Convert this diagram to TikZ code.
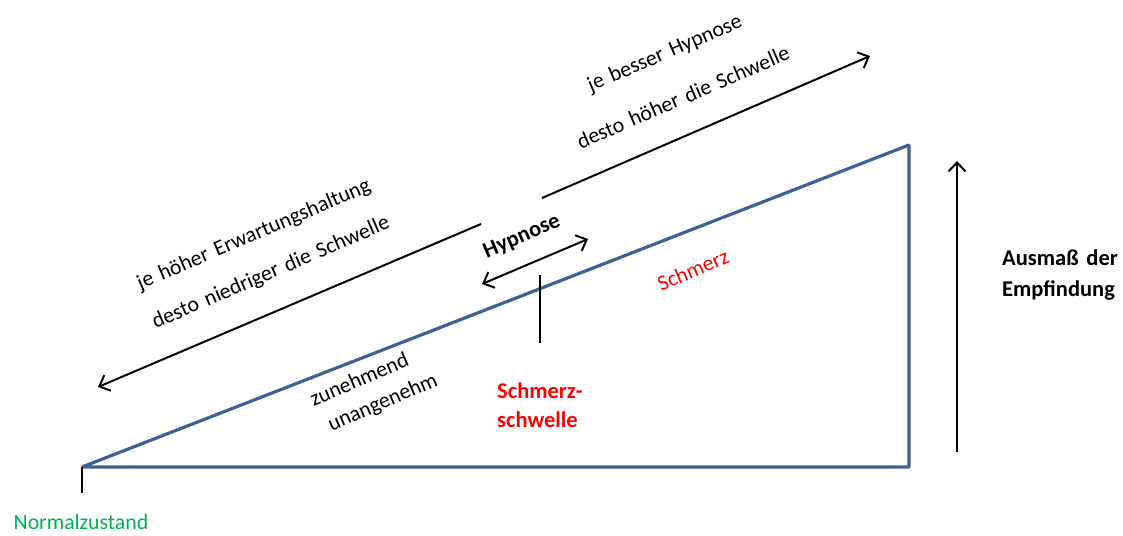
\documentclass[tikz,border=0pt]{standalone}
\usepackage{fontspec}
\setmainfont{Carlito}[WordSpace=1.5]
\usetikzlibrary{arrows.meta}
\definecolor{triblue}{RGB}{62,98,148}
\definecolor{greentxt}{RGB}{0,176,80}
\definecolor{redtxt}{RGB}{255,0,0}
\tikzset{
  tri/.style={draw=triblue,line width=3.2pt,line join=bevel},
  blk/.style={draw=black,line width=2pt},
  arr/.style={blk,-{Straight Barb[length=9pt,width=17pt,line width=2pt]}},
  darr/.style={blk,{Straight Barb[length=9pt,width=17pt,line width=2pt]}-{Straight Barb[length=9pt,width=17pt,line width=2pt]}},
  txt/.style={font=\fontsize{21.8}{26}\selectfont,inner sep=0pt},
  btxt/.style={font=\fontsize{22.5}{26}\selectfont\bfseries,inner sep=0pt},
  rot/.style={rotate=23.3}
}
\begin{document}
\begin{tikzpicture}[x=1pt,y=-1pt]
\useasboundingbox (0,0) rectangle (1123,535);
% triangle
\coordinate (A) at (82,467);
\coordinate (B) at (909,467);
\coordinate (C) at (909,145);
\draw[tri] (A) -- (B) -- (C) -- cycle;
% tick at normal state
\coordinate (T) at (82,493);
\draw[blk] (A) -- (T);
% upper arrow
\coordinate (U1) at (542,198);
\coordinate (U2) at (870,56);
\draw[arr] (U1) -- (U2);
% lower-left arrow
\coordinate (L1) at (481,224);
\coordinate (L2) at (98,387);
\draw[arr] (L1) -- (L2);
% hypnose double arrow
\coordinate (H1) at (482,284);
\coordinate (H2) at (588,239);
\draw[darr] (H1) -- (H2);
% threshold line
\coordinate (S1) at (540,275);
\coordinate (S2) at (540,343);
\draw[blk] (S1) -- (S2);
% vertical arrow
\coordinate (V1) at (957,452);
\coordinate (V2) at (957,161);
\draw[arr] (V1) -- (V2);
% texts
\node[txt,rot] (jb) at (665,54) {je besser Hypnose};
\node[txt,rot] (dh) at (683,97) {desto höher die Schwelle};
\node[txt,rot] (jh) at (254,235) {je höher Erwartungshaltung};
\node[txt,rot] (dn) at (271,273) {desto niedriger die Schwelle};
\node[btxt,rot] (hy) at (522,237) {Hypnose};
\node[txt,rot,text=redtxt] (sm) at (693,270) {Schmerz};
\node[txt,rot] (zu) at (359,379) {zunehmend};
\node[txt,rot] (un) at (383,403) {unangenehm};
\node[btxt,text=redtxt,anchor=west] (ss1) at (497,391) {Schmerz-};
\node[btxt,text=redtxt,anchor=west] (ss2) at (497,420) {schwelle};
\node[btxt,anchor=west] (au) at (1002,258) {Ausmaß der};
\node[btxt,anchor=west] (em) at (1002,290) {Empfindung};
\node[txt,text=greentxt] (nz) at (81,522) {Normalzustand};
\end{tikzpicture}
\end{document}
